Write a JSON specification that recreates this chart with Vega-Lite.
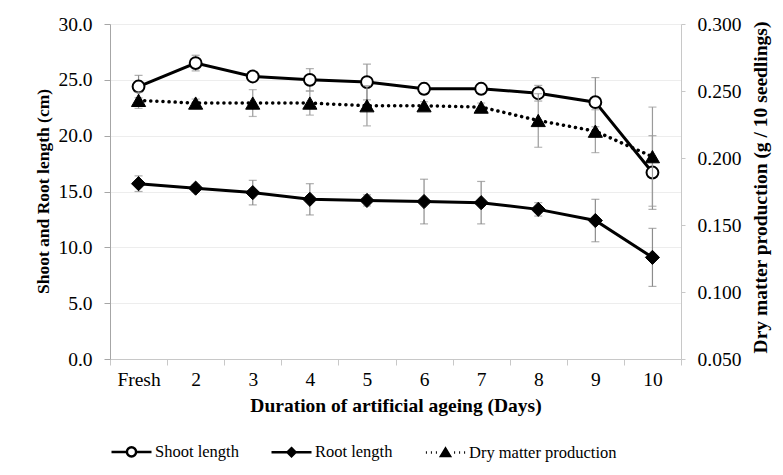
{
  "$schema": "https://vega.github.io/schema/vega-lite/v6.json",
  "autosize": {"type": "none"},
  "padding": {"left": 110, "top": 24, "right": 102, "bottom": 116},
  "width": 571,
  "height": 335,
  "background": "white",
  "config": {
    "font": "Liberation Serif",
    "view": {"stroke": null},
    "style": {
      "guide-label": {"font": "Liberation Serif", "fill": "#000"},
      "guide-title": {"font": "Liberation Serif", "fill": "#000"}
    },
    "axis": {
      "labelFont": "Liberation Serif",
      "labelFontSize": 19.5,
      "labelColor": "#000",
      "titleFont": "Liberation Serif",
      "titleFontSize": 19.5,
      "titleFontWeight": "bold",
      "titleColor": "#000",
      "domainColor": "#a6a6a6",
      "tickColor": "#a6a6a6",
      "gridColor": "#ededed"
    },
    "legend": {
      "orient": "none",
      "legendX": 0,
      "legendY": 406,
      "direction": "horizontal",
      "symbolSize": 1600,
      "symbolStrokeWidth": 2.5,
      "symbolStrokeColor": "black",
      "symbolOpacity": 1,
      "labelFont": "Liberation Serif",
      "labelFontSize": 16.5,
      "labelColor": "#000",
      "labelOffset": 2,
      "labelLimit": 400,
      "columnPadding": 27,
      "padding": 0
    }
  },
  "data": {
    "values": [
      {"day": "Fresh", "series": "Shoot length", "value": 24.4, "err": 1.0},
      {"day": "2", "series": "Shoot length", "value": 26.5, "err": 0.7},
      {"day": "3", "series": "Shoot length", "value": 25.3, "err": 0.3},
      {"day": "4", "series": "Shoot length", "value": 25.0, "err": 1.0},
      {"day": "5", "series": "Shoot length", "value": 24.8, "err": 1.6},
      {"day": "6", "series": "Shoot length", "value": 24.2, "err": 0.5},
      {"day": "7", "series": "Shoot length", "value": 24.2, "err": 0.3},
      {"day": "8", "series": "Shoot length", "value": 23.8, "err": 0.7},
      {"day": "9", "series": "Shoot length", "value": 23.0, "err": 2.2},
      {"day": "10", "series": "Shoot length", "value": 16.7, "err": 3.3},
      {"day": "Fresh", "series": "Root length", "value": 15.7, "err": 0.7},
      {"day": "2", "series": "Root length", "value": 15.3, "err": 0.3},
      {"day": "3", "series": "Root length", "value": 14.9, "err": 1.1},
      {"day": "4", "series": "Root length", "value": 14.3, "err": 1.4},
      {"day": "5", "series": "Root length", "value": 14.2, "err": 0.5},
      {"day": "6", "series": "Root length", "value": 14.1, "err": 2.0},
      {"day": "7", "series": "Root length", "value": 14.0, "err": 1.9},
      {"day": "8", "series": "Root length", "value": 13.4, "err": 0.6},
      {"day": "9", "series": "Root length", "value": 12.4, "err": 1.9},
      {"day": "10", "series": "Root length", "value": 9.1, "err": 2.6},
      {"day": "Fresh", "series": "Dry matter production", "value": 0.243, "err": 0.006},
      {"day": "2", "series": "Dry matter production", "value": 0.241, "err": 0.003},
      {"day": "3", "series": "Dry matter production", "value": 0.241, "err": 0.010},
      {"day": "4", "series": "Dry matter production", "value": 0.241, "err": 0.009},
      {"day": "5", "series": "Dry matter production", "value": 0.239, "err": 0.015},
      {"day": "6", "series": "Dry matter production", "value": 0.239, "err": 0.003},
      {"day": "7", "series": "Dry matter production", "value": 0.238, "err": 0.003},
      {"day": "8", "series": "Dry matter production", "value": 0.228, "err": 0.020},
      {"day": "9", "series": "Dry matter production", "value": 0.220, "err": 0.016},
      {"day": "10", "series": "Dry matter production", "value": 0.201, "err": 0.037}
    ]
  },
  "encoding": {
    "x": {
      "field": "day",
      "type": "nominal",
      "scale": {"type": "band", "domain": ["Fresh", "2", "3", "4", "5", "6", "7", "8", "9", "10"], "paddingInner": 0, "paddingOuter": 0},
      "axis": {
        "title": "Duration of artificial ageing (Days)",
        "labelAngle": 0,
        "tickBand": "extent",
        "tickSize": 6,
        "labelPadding": 5,
        "domainColor": "#c8c8c8",
        "tickColor": "#c8c8c8",
        "titleBaseline": "alphabetic",
        "titleY": 52
      }
    }
  },
  "layer": [
    {
      "encoding": {
        "y": {
          "field": "value",
          "type": "quantitative",
          "scale": {"domain": [0, 30], "nice": false, "zero": false},
          "axis": {
            "title": "Shoot and Root length (cm)",
            "values": [0, 5, 10, 15, 20, 25, 30],
            "format": ".1f",
            "tickSize": 6,
            "labelPadding": 12,
            "grid": true,
            "titleFontSize": 17.5,
            "titleAngle": 270,
            "titleBaseline": "alphabetic",
            "titleX": -62,
            "titleY": 167
          }
        }
      },
      "layer": [
        {
          "transform": [{"filter": "datum.series !== 'Dry matter production'"}],
          "mark": {"type": "errorbar", "ticks": {"size": 8}, "color": "#8c8c8c", "thickness": 1.2},
          "encoding": {"yError": {"field": "err"}}
        },
        {
          "transform": [{"filter": "datum.series !== 'Dry matter production'"}],
          "mark": {"type": "line", "color": "black", "strokeWidth": 3},
          "encoding": {"detail": {"field": "series"}}
        },
        {
          "transform": [{"filter": "datum.series === 'Shoot length'"}],
          "mark": {"type": "point", "shape": "circle", "filled": true, "fill": "white", "stroke": "black", "strokeWidth": 2, "size": 140, "opacity": 1}
        },
        {
          "transform": [{"filter": "datum.series === 'Root length'"}],
          "mark": {"type": "point", "shape": "diamond", "filled": true, "fill": "black", "stroke": "black", "strokeWidth": 1, "size": 200, "opacity": 1}
        },
        {
          "transform": [{"filter": "datum.value > 1000"}],
          "mark": {"type": "point", "filled": true, "opacity": 1, "strokeWidth": 2.5},
          "encoding": {
            "shape": {
              "field": "series",
              "type": "nominal",
              "scale": {
                "domain": ["Shoot length", "Root length", "Dry matter production"],
                "range": [
                  "M-1,0H-0.23M0.23,0H1M0.23,0A0.23,0.23,0,1,1,-0.23,0A0.23,0.23,0,1,1,0.23,0Z",
                  "M-1,0H1M0,-0.2L0.2,0L0,0.2L-0.2,0Z",
                  "M-0.98,0H-0.93M-0.73,0H-0.68M-0.48,0H-0.43M0.43,0H0.48M0.68,0H0.73M0.93,0H0.98M0,-0.19L0.22,0.17L-0.22,0.17Z"
                ]
              },
              "legend": {"title": null, "labelFont": "Liberation Serif", "labelFontSize": 16.5}
            },
            "fill": {
              "field": "series",
              "type": "nominal",
              "scale": {
                "domain": ["Shoot length", "Root length", "Dry matter production"],
                "range": ["white", "black", "black"]
              },
              "legend": {"title": null, "labelFont": "Liberation Serif", "labelFontSize": 16.5}
            },
            "stroke": {
              "field": "series",
              "type": "nominal",
              "scale": {
                "domain": ["Shoot length", "Root length", "Dry matter production"],
                "range": ["black", "black", "black"]
              },
              "legend": {"title": null, "labelFont": "Liberation Serif", "labelFontSize": 16.5}
            }
          }
        }
      ]
    },
    {
      "transform": [{"filter": "datum.series === 'Dry matter production'"}],
      "encoding": {
        "y": {
          "field": "value",
          "type": "quantitative",
          "scale": {"domain": [0.05, 0.3], "nice": false, "zero": false},
          "axis": {
            "orient": "right",
            "title": "Dry matter production (g / 10 seedlings)",
            "values": [0.05, 0.1, 0.15, 0.2, 0.25, 0.3],
            "format": ".3f",
            "tickSize": 4,
            "labelPadding": 12,
            "grid": false,
            "domainColor": "#c8c8c8",
            "tickColor": "#c8c8c8",
            "titleAngle": 270,
            "titleBaseline": "alphabetic",
            "titleX": 85,
            "titleY": 163
          }
        }
      },
      "layer": [
        {
          "mark": {"type": "errorbar", "ticks": {"size": 8}, "color": "#9a9a9a", "thickness": 1.2},
          "encoding": {"yError": {"field": "err"}}
        },
        {
          "mark": {"type": "line", "color": "black", "strokeWidth": 3.5, "strokeDash": [0.1, 6], "strokeCap": "round"}
        },
        {
          "mark": {"type": "point", "shape": "triangle-up", "filled": true, "fill": "black", "stroke": "black", "strokeWidth": 1, "size": 200, "opacity": 1}
        }
      ]
    }
  ],
  "resolve": {"scale": {"y": "independent"}}
}
